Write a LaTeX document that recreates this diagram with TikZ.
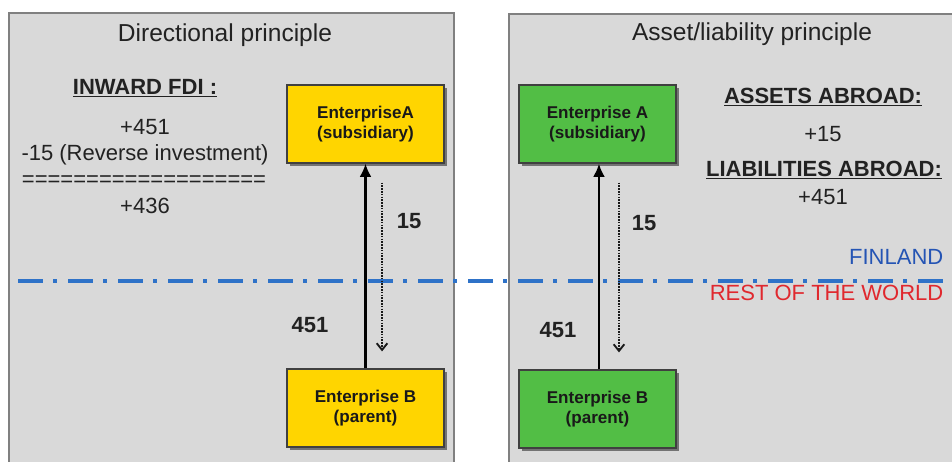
\documentclass[tikz,border=0pt]{standalone}
\usepackage{fontspec}
\setmainfont{Liberation Sans}
\usetikzlibrary{arrows.meta,shadows}
\definecolor{panelfill}{HTML}{D9D9D9}
\definecolor{panelline}{HTML}{808080}
\definecolor{boxyellow}{HTML}{FFD500}
\definecolor{boxgreen}{HTML}{52BE45}
\definecolor{lineblue}{HTML}{2E72C8}
\definecolor{finblue}{HTML}{2454B4}
\definecolor{rowred}{HTML}{E0282E}
\definecolor{txt}{HTML}{222222}
\tikzset{
  panel/.style={draw=panelline,fill=panelfill,line width=1.6pt},
  entbox/.style={draw=black!75,line width=0.9pt,minimum width=117.75pt,minimum height=58.5pt,
    align=center,inner sep=0pt,font=\fontsize{12.8}{15}\selectfont\bfseries,text=black!90,
    drop shadow={shadow xshift=2pt,shadow yshift=-2pt,fill=black!55,opacity=1}},
  ttl/.style={font=\fontsize{18.4}{22}\selectfont,text=txt},
  body/.style={font=\fontsize{16.5}{19}\selectfont,text=txt},
  bodyb/.style={font=\fontsize{16.5}{19}\selectfont\bfseries,text=txt},
  flowarrow/.style={line width=1.9pt,-{Latex[length=10pt,width=9pt]},black},
  backarrow/.style={line width=2pt,dash pattern=on 1.2pt off 0.9pt,-{Straight Barb[length=5pt,width=8pt,line width=1.4pt]},black!90},
  border/.style={draw=lineblue,line width=2.3pt,dash pattern=on 18.75pt off 7.5pt on 3pt off 8.25pt}
}
\begin{document}
\begin{tikzpicture}[x=0.75pt,y=-0.75pt]
\clip (0,0) rectangle (952,461);
\fill[white] (0,0) rectangle (952,461);
% panels
\draw[panel] (9,13) rectangle (454,475);
\draw[panel] (509,14) rectangle (965,475);
% titles
\node[ttl] (t1) at (225,35) {Directional principle};
\node[ttl] (t2) at (752,34) {Asset/liability principle};
% left texts
\node[bodyb] (inw) at (145,88) {\underline{INWARD FDI :}};
\node[body] (l1) at (145,127) {+451};
\node[body] (l2) at (145,155) {-15 (Reverse investment)};
\node[body] (l3) at (144,181) {===================};
\node[body] (l4) at (145,206) {+436};
% right texts
\node[bodyb] (ass) at (823,97) {\underline{ASSETS ABROAD:}};
\node[body] (r1) at (823,134) {+15};
\node[bodyb] (lia) at (824,170) {\underline{LIABILITIES ABROAD:}};
\node[body] (r2) at (823,197) {+451};
% border line
\coordinate (bl) at (18,281);
\coordinate (br) at (952,281);
\draw[border] (bl) -- (br);
\node[body,text=finblue,anchor=east] (fin) at (948,257) {FINLAND};
\node[body,text=rowred,anchor=east] (row) at (948,293) {REST OF THE WORLD};
% boxes
\node[entbox,fill=boxyellow] (YA) at (365.5,124) {EnterpriseA\\(subsidiary)};
\node[entbox,fill=boxyellow] (YB) at (365.5,408) {Enterprise B\\(parent)};
\node[entbox,fill=boxgreen] (GA) at (597.5,124) {Enterprise A\\(subsidiary)};
\node[entbox,fill=boxgreen] (GB) at (597.5,409) {Enterprise B\\(parent)};
% arrows left
\draw[flowarrow] (YB.north) -- (YA.south);
\coordinate (yd1) at ([xshift=12.4pt,yshift=-14.25pt]YA.south);
\coordinate (yd2) at ([xshift=12.4pt,yshift=12.75pt]YB.north);
\draw[backarrow] (yd1) -- (yd2);
\node[bodyb] (y15) at (409,221) {15};
\node[bodyb] (y451) at (310,325) {451};
% arrows right
\draw[flowarrow] ([xshift=1.1pt]GB.north) -- ([xshift=1.1pt]GA.south);
\coordinate (gd1) at ([xshift=16.1pt,yshift=-14.25pt]GA.south);
\coordinate (gd2) at ([xshift=16.1pt,yshift=12.75pt]GB.north);
\draw[backarrow] (gd1) -- (gd2);
\node[bodyb] (g15) at (644,223) {15};
\node[bodyb] (g451) at (558,330) {451};
\end{tikzpicture}
\end{document}
